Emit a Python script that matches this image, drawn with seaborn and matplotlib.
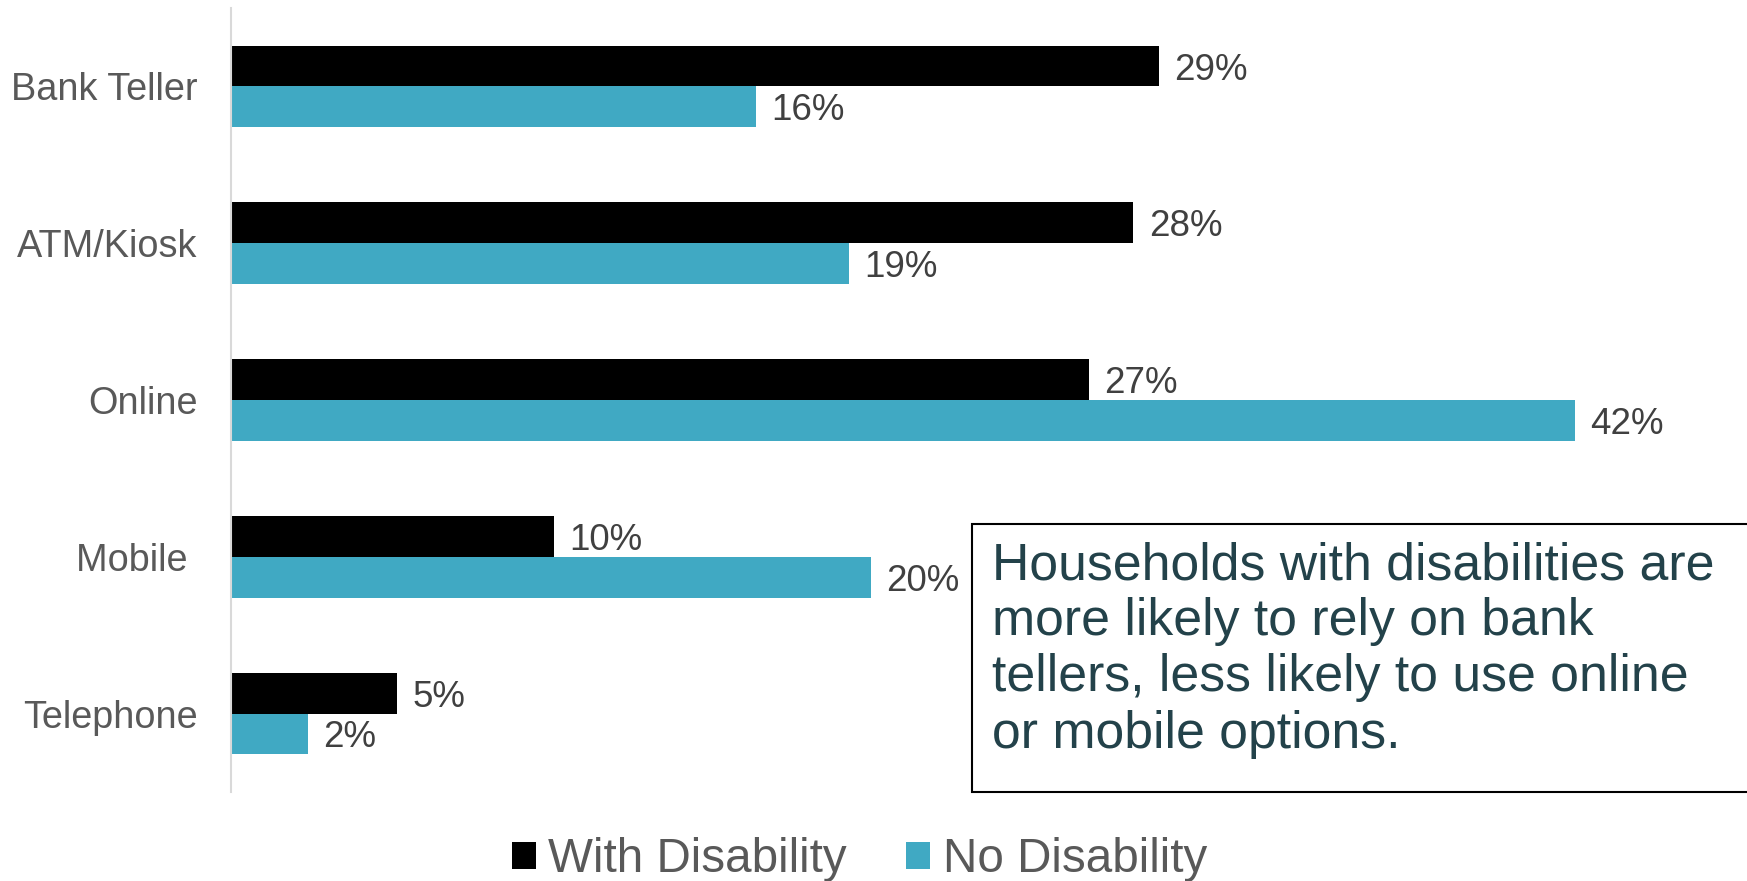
import matplotlib
matplotlib.use("Agg")
import matplotlib.pyplot as plt
from matplotlib.patches import Rectangle
import seaborn as sns
import pandas as pd

categories = ["Bank Teller", "ATM/Kiosk", "Online", "Mobile ", "Telephone"]
with_disability = [29.0, 28.2, 26.8, 10.1, 5.2]
no_disability = [16.4, 19.3, 42.0, 20.0, 2.4]
series_names = ["With Disability", "No Disability"]
colors = ["#000000", "#40A9C3"]
note = ("Households with disabilities are\nmore likely to rely on bank\n"
        "tellers, less likely to use online\nor mobile options.")

df = pd.DataFrame({
    "channel": categories * 2,
    "value": with_disability + no_disability,
    "group": [series_names[0]] * len(categories) + [series_names[1]] * len(categories),
})

sns.set_theme(style="white")
plt.rcParams["font.family"] = ["Liberation Sans", "DejaVu Sans"]

fig = plt.figure(figsize=(17.47, 8.81), dpi=100)
ax = fig.add_axes([231 / 1747, 1 - 792 / 881, 1 - 231 / 1747, (792 - 8) / 881])

sns.barplot(data=df, y="channel", x="value", hue="group", orient="h",
            palette=colors, width=0.52, ax=ax, legend=False,
            order=categories, hue_order=series_names, saturation=1, edgecolor="none")

ax.set_xlim(0, (1747 - 231) / 32.0)
ax.set_ylim(4.5, -0.5)
ax.set_xlabel("")
ax.set_ylabel("")
ax.set_xticks([])
for s in ["top", "right", "bottom"]:
    ax.spines[s].set_visible(False)
ax.spines["left"].set_color("#D9D9D9")
ax.spines["left"].set_linewidth(1.5)
ax.tick_params(axis="y", length=0, pad=24, labelsize=27.3, labelcolor="#595959")

for cont in ax.containers:
    vals = [r.get_width() for r in cont]
    anns = ax.bar_label(cont, labels=[f"{v:.0f}%" for v in vals], padding=11,
                        fontsize=26.5, color="#404040")
    for a in anns:
        a.set_va("center_baseline")

# legend
handles = [Rectangle((0, 0), 1, 1, facecolor=c, edgecolor="none") for c in colors]
fig.legend(handles, series_names, loc="center", bbox_to_anchor=(0.492, 1 - 860 / 881),
           ncol=2, frameon=False, fontsize=34.3, labelcolor="#595959",
           handlelength=0.5, handleheight=0.5, handletextpad=0.26, columnspacing=1.25)

# annotation box
fig.patches.append(Rectangle((972 / 1747, 1 - 792 / 881), 0.5, (792 - 524) / 881,
                             transform=fig.transFigure, facecolor="white",
                             edgecolor="#000000", linewidth=1.5, zorder=5))
fig.text(992 / 1747, 1 - 541 / 881, note, ha="left", va="top", fontsize=37.3,
         color="#23424A", linespacing=1.19, zorder=6)

fig.savefig("out.png", dpi=100)
